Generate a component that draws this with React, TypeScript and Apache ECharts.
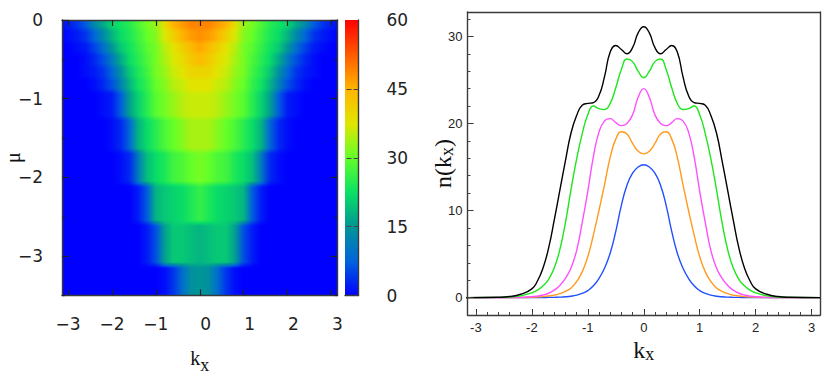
import React, { useEffect, useRef } from "react";
import * as echarts from "echarts";

// ---- heat map data (mirrored half profiles, kx >= 0) ----
const heatK = [0, 0.2, 0.4, 0.6, 0.8, 1, 1.2, 1.4, 1.6, 1.8, 2, 2.2, 2.4, 2.6, 2.8, 3, 3.2];
const heatMuEdges = [0, -0.12, -0.28, -0.42, -0.58, -0.74, -0.9, -1.25, -1.66, -2.08, -2.58, -3.11, -3.5];
const heatRow1 = [49, 49, 47, 45, 39, 33, 31, 28, 25, 23, 21, 17, 13, 7, 4, 2, 1];
const heatRow2 = [48, 47, 45, 41, 37, 32, 30, 27, 24, 22, 18, 13, 8, 4, 2, 1, 0];
const heatRow3 = [46, 44, 41, 38, 35, 31, 29, 26, 23, 20, 15, 9, 5, 2, 1, 0, 0];
const heatRow4 = [44, 42, 39, 37, 34, 31, 28, 25, 22, 17, 11, 6, 3, 1, 0, 0, 0];
const heatRow5 = [40, 40, 38, 36, 33, 31, 27, 24, 20, 14, 8, 4, 2, 1, 0, 0, 0];
const heatRow6 = [38, 38, 36, 35, 32, 30, 26, 23, 18, 12, 6, 3, 1, 0, 0, 0, 0];
const heatRow7 = [36, 36, 35, 33, 31, 29, 25, 21, 16, 7, 2, 1, 0, 0, 0, 0, 0];
const heatRow8 = [34, 34, 32, 30, 28, 25, 22, 18, 8, 3, 1, 0, 0, 0, 0, 0, 0];
const heatRow9 = [31, 30, 28, 27, 24, 22, 19, 11, 3, 1, 0, 0, 0, 0, 0, 0, 0];
const heatRow10 = [26, 24, 22, 21, 20, 18, 7, 2, 0, 0, 0, 0, 0, 0, 0, 0, 0];
const heatRow11 = [18, 19, 20, 20, 16, 6, 2, 0, 0, 0, 0, 0, 0, 0, 0, 0, 0];
const heatRow12 = [15, 14, 9, 4, 1, 0, 0, 0, 0, 0, 0, 0, 0, 0, 0, 0, 0];
const heatRows = [heatRow1, heatRow2, heatRow3, heatRow4, heatRow5, heatRow6, heatRow7, heatRow8, heatRow9, heatRow10, heatRow11, heatRow12];
const colorStops = ["#0000ff", "#0064dc", "#009696", "#0ae164", "#64ff28", "#e1e600", "#ffb400", "#ff5a00", "#ff0000"];

// ---- line chart data (mirrored half profiles, kx >= 0) ----
const lineK = [0, 0.1, 0.2, 0.3, 0.4, 0.5, 0.6, 0.7, 0.8, 0.9, 1, 1.1, 1.2, 1.3, 1.4, 1.5, 1.6, 1.7, 1.8, 1.9, 2, 2.2, 2.4, 2.6, 3.2];
const blackN = [31.1, 30.4, 28.7, 28.0, 28.5, 28.95, 28.2, 25.4, 23.2, 22.4, 22.3, 22.1, 20.9, 18.9, 15.7, 12.3, 8.9, 5.7, 3.4, 1.9, 1.0, 0.38, 0.12, 0.04, 0];
const greenN = [25.25, 26.0, 27.1, 27.4, 26.2, 24.1, 22.3, 21.6, 21.7, 22.0, 21.0, 18.8, 15.9, 12.4, 8.6, 5.5, 3.4, 2.1, 1.35, 0.85, 0.55, 0.2, 0.07, 0.02, 0];
const magentaN = [24.0, 23.0, 21.0, 20.0, 19.75, 20.1, 20.55, 20.3, 19.0, 16.2, 12.2, 8.6, 5.4, 3.4, 2.2, 1.4, 0.85, 0.5, 0.3, 0.17, 0.09, 0.03, 0.01, 0, 0];
const orangeN = [16.5, 16.8, 17.7, 18.8, 19.05, 18.2, 16.1, 13.0, 10.0, 7.2, 4.7, 2.95, 1.85, 1.1, 0.72, 0.45, 0.28, 0.18, 0.11, 0.07, 0.04, 0.01, 0, 0, 0];
const blueN = [15.25, 15.0, 14.3, 12.9, 10.6, 7.6, 5.1, 3.4, 2.2, 1.35, 0.8, 0.48, 0.28, 0.16, 0.09, 0.05, 0.03, 0.02, 0.01, 0, 0, 0, 0, 0, 0];

// ---- ticks ----
const heatXTicks = [-3, -2, -1, 0, 1, 2, 3];
const heatYTicks = [0, -1, -2, -3];
const heatYMinor = [-0.5, -1.5, -2.5, -3.5];
const barTicks = [0, 15, 30, 45, 60];
const lineXTicks = [-3, -2, -1, 0, 1, 2, 3];
const lineXMinor = [-3, -2.8, -2.6, -2.4, -2.2, -2, -1.8, -1.6, -1.4, -1.2, -1, -0.8, -0.6, -0.4, -0.2, 0, 0.2, 0.4, 0.6, 0.8, 1, 1.2, 1.4, 1.6, 1.8, 2, 2.2, 2.4, 2.6, 2.8, 3];
const lineYTicks = [0, 10, 20, 30];
const lineYMinor = [-2, 0, 2, 4, 6, 8, 10, 12, 14, 16, 18, 20, 22, 24, 26, 28, 30, 32];

const mirror = (k: number[], v: number[]) => {
  const out: number[][] = [];
  for (let i = k.length - 1; i > 0; i--) out.push([-k[i], v[i]]);
  for (let i = 0; i < k.length; i++) out.push([k[i], v[i]]);
  return out;
};
const colorOf = (v: number) => echarts.color.lerp(Math.min(1, Math.max(0, v / 60)), colorStops) as string;

const BORDER = "#3a3a3a";
const SANS = "'DejaVu Sans'";
const SERIF = "'Liberation Serif'";
const HELV = "'Liberation Sans'";
const XR = 3.14;
const BLUR = 3; // half height, in px, of the soft edge between two rows
const STRIPS = 6;

const frameLine = { show: true, onZero: false, lineStyle: { color: BORDER, width: 1.4 } };
const noLine = { show: false, onZero: false };
const off = { show: false };

const subRich = (kSize: number, xSize: number, drop: number, color = "#111") => ({
  k: { fontFamily: SERIF, fontSize: kSize, color, lineHeight: kSize, verticalAlign: "top" as const },
  s: { fontFamily: SERIF, fontSize: xSize, color, lineHeight: xSize, verticalAlign: "top" as const, padding: [drop, 0, 0, 0] },
});

export default function App() {
  const ref = useRef<HTMLDivElement>(null);
  useEffect(() => {
    const chart = echarts.init(ref.current!, undefined, { renderer: "svg" });

    const heatData = heatRows.map((r, i) => [-3.2, heatMuEdges[i], 3.2, heatMuEdges[i + 1], i]);
    const gradient = (vals: number[], x0: number, x1: number) =>
      new echarts.graphic.LinearGradient(0, 0, 1, 0,
        mirror(heatK, vals).map((p) => ({ offset: (p[0] - x0) / (x1 - x0), color: colorOf(p[1]) })));
    const renderHeat = (_: any, api: any) => {
      const x0 = api.value(0), y0 = api.value(1), x1 = api.value(2), y1 = api.value(3);
      const idx = api.value(4);
      const row = heatRows[idx];
      const next = heatRows[idx + 1];
      const a = api.coord([x0, y0]);
      const b = api.coord([x1, y1]);
      const top = Math.round(a[1]);
      const bottom = Math.round(b[1]);
      const children: any[] = [{
        type: "rect",
        shape: { x: a[0], y: top, width: b[0] - a[0], height: bottom - top + 1 },
        style: { fill: gradient(row, x0, x1) },
      }];
      if (next) {
        const h = (2 * BLUR) / STRIPS;
        for (let s = 0; s < STRIPS; s++) {
          const t = (s + 0.5) / STRIPS;
          children.push({
            type: "rect",
            z2: 1,
            shape: { x: a[0], y: bottom - BLUR + s * h, width: b[0] - a[0], height: h + 0.3 },
            style: { fill: gradient(row.map((v, j) => v * (1 - t) + next[j] * t), x0, x1) },
          });
        }
      }
      return { type: "group", children };
    };
    const renderBar = (_: any, api: any) => {
      const a = api.coord([0, api.value(1)]);
      const b = api.coord([1, api.value(0)]);
      return {
        type: "rect",
        shape: { x: a[0], y: a[1], width: b[0] - a[0], height: b[1] - a[1] },
        style: {
          fill: new echarts.graphic.LinearGradient(0, 1, 0, 0,
            colorStops.map((c, i) => ({ offset: i / (colorStops.length - 1), color: c }))),
        },
      };
    };

    const lineSeries = (name: string, v: number[], color: string) => ({
      type: "line", name, xAxisIndex: 3, yAxisIndex: 5, data: mirror(lineK, v), smooth: 0.5,
      showSymbol: false, symbol: "none", clip: true, z: 2, lineStyle: { color, width: 1.4 },
    });

    const tick = (vals: number[], length: number, color = "#222", width = 1.2) => ({
      show: true, inside: true, length, customValues: vals, lineStyle: { color, width },
    });

    chart.setOption({
      animation: false,
      backgroundColor: "#fff",
      grid: [
        { left: 62, top: 20, width: 275.5, height: 275.5, outerBoundsMode: "none" },
        { left: 345, top: 20, width: 13.5, height: 275.5, outerBoundsMode: "none" },
        { left: 467.5, top: 12, width: 352.5, height: 303, outerBoundsMode: "none" },
      ],
      xAxis: [
        {
          gridIndex: 0, type: "value", min: -XR, max: XR, position: "bottom", z: 10,
          splitLine: off, axisLine: frameLine, axisTick: tick(heatXTicks, 6),
          axisLabel: {
            customValues: heatXTicks, margin: 20, showMinLabel: true, showMaxLabel: true,
            formatter: (v: number) => (v < 0 ? `{n|\u2212${-v}}` : `{p|${v}}`),
            rich: {
              n: { fontFamily: SANS, fontSize: 17, color: "#222" },
              p: { fontFamily: SANS, fontSize: 17, color: "#222", padding: [0, 0, 0, 12] },
            },
          },
          name: "{k|k}{s|x}", nameLocation: "middle", nameGap: 52, nameMoveOverlap: false,
          nameTextStyle: { rich: subRich(20, 18, 8) },
        },
        { gridIndex: 0, type: "value", min: -XR, max: XR, position: "top", z: 10, splitLine: off, axisLine: frameLine, axisTick: tick(heatXTicks, 6), axisLabel: off },
        { gridIndex: 1, type: "value", min: 0, max: 1, position: "bottom", z: 10, splitLine: off, axisLine: frameLine, axisTick: off, axisLabel: off },
        {
          gridIndex: 2, type: "value", min: -3.15, max: 3.15, position: "bottom", z: 10,
          splitLine: off, axisLine: frameLine, axisTick: tick(lineXTicks, 6, "#333", 1),
          axisLabel: {
            customValues: lineXTicks, margin: 6, fontFamily: HELV, fontSize: 13, color: "#222",
            formatter: (v: number) => String(v),
          },
          name: "{k|k}{s|x}", nameLocation: "middle", nameGap: 23, nameMoveOverlap: false,
          nameTextStyle: { rich: subRich(24, 18, 7) },
        },
        { gridIndex: 2, type: "value", min: -3.15, max: 3.15, position: "bottom", z: 10, splitLine: off, axisLine: noLine, axisTick: tick(lineXMinor, 3, "#444", 1), axisLabel: off },
        { gridIndex: 2, type: "value", min: -3.15, max: 3.15, position: "top", z: 10, splitLine: off, axisLine: frameLine, axisTick: off, axisLabel: off },
      ],
      yAxis: [
        {
          gridIndex: 0, type: "value", min: -3.5, max: 0, position: "left", z: 10,
          splitLine: off, axisLine: frameLine, axisTick: tick(heatYTicks, 7),
          axisLabel: {
            customValues: heatYTicks, margin: 19, fontFamily: SANS, fontSize: 17, color: "#222",
            formatter: (v: number) => (v < 0 ? `\u2212${-v}` : String(v)),
          },
          name: "\u03bc", nameLocation: "middle", nameGap: 39, nameMoveOverlap: false,
          nameTextStyle: { fontFamily: SERIF, fontSize: 20, color: "#111" },
        },
        { gridIndex: 0, type: "value", min: -3.5, max: 0, position: "right", z: 10, splitLine: off, axisLine: frameLine, axisTick: tick(heatYTicks, 7), axisLabel: off },
        { gridIndex: 0, type: "value", min: -3.5, max: 0, position: "left", z: 10, splitLine: off, axisLine: noLine, axisTick: tick(heatYMinor, 3), axisLabel: off },
        { gridIndex: 0, type: "value", min: -3.5, max: 0, position: "right", z: 10, splitLine: off, axisLine: noLine, axisTick: tick(heatYMinor, 3), axisLabel: off },
        {
          gridIndex: 1, type: "value", min: 0, max: 60, position: "right", z: 10,
          splitLine: off, axisLine: frameLine,
          axisTick: { show: true, inside: true, length: 13.5, customValues: [15, 30, 45], lineStyle: { color: "#444", width: 1, type: [5, 2] } },
          axisLabel: { customValues: barTicks, margin: 28, fontFamily: SANS, fontSize: 17, color: "#222" },
        },
        {
          gridIndex: 2, type: "value", min: -2, max: 32.8, position: "left", z: 10,
          splitLine: off, axisLine: frameLine, axisTick: tick(lineYTicks, 6, "#333", 1),
          axisLabel: { customValues: lineYTicks, margin: 5, fontFamily: HELV, fontSize: 13, color: "#222" },
          name: "{k|n(k}{s|x}{k|)}", nameLocation: "middle", nameGap: 13, nameMoveOverlap: false,
          nameTextStyle: { rich: subRich(24, 18, 7) },
        },
        { gridIndex: 2, type: "value", min: -2, max: 32.8, position: "left", z: 10, splitLine: off, axisLine: noLine, axisTick: tick(lineYMinor, 3, "#444", 1), axisLabel: off },
        { gridIndex: 2, type: "value", min: -2, max: 32.8, position: "right", z: 10, splitLine: off, axisLine: frameLine, axisTick: off, axisLabel: off },
      ],
      series: [
        {
          type: "custom", name: "heat", xAxisIndex: 0, yAxisIndex: 0, clip: true, z: 1,
          data: heatData, encode: { x: [0, 2], y: [1, 3] }, renderItem: renderHeat, silent: true,
        },
        {
          type: "custom", name: "colorbar", xAxisIndex: 2, yAxisIndex: 4, clip: true, z: 1,
          data: [[0, 60]], encode: { y: [0, 1] }, renderItem: renderBar, silent: true,
        },
        lineSeries("blue", blueN, "#2050ff"),
        lineSeries("orange", orangeN, "#ff9a1c"),
        lineSeries("magenta", magentaN, "#ff50ff"),
        lineSeries("green", greenN, "#1ee61e"),
        lineSeries("black", blackN, "#000000"),
      ],
    });
    return () => chart.dispose();
  }, []);
  return <div ref={ref} style={{ position: "absolute", left: 0, top: 0, width: 830, height: 374 }} />;
}
